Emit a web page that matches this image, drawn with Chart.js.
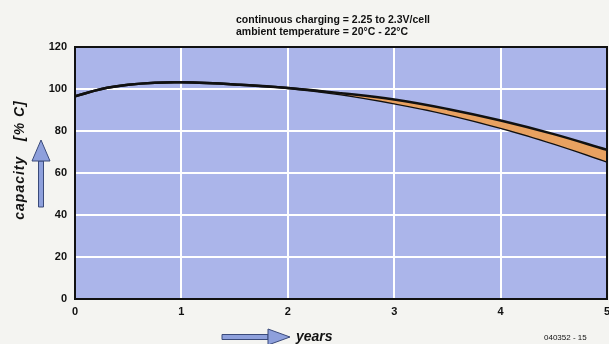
<!DOCTYPE html>
<html>
<head>
<meta charset="utf-8">
<script src="https://cdn.jsdelivr.net/npm/chart.js@4.4.1/dist/chart.umd.min.js"></script>
<style>
  html, body { margin: 0; padding: 0; background: #f4f4f1; }
  #wrap { width: 609px; height: 344px; position: relative; }
</style>
</head>
<body>
<div id="wrap"><canvas id="capacityChart" width="609" height="344"></canvas></div>
<script>
'use strict';

// Data
const years = [0, 0.25, 0.5, 0.75, 1, 1.5, 2, 2.5, 3, 3.5, 4, 4.5, 5];
const upperCapacity = [96.5, 100, 102, 103, 103.2, 102.2, 100.5, 98, 95, 90.5, 85, 78.5, 71];
const lowerCapacity = [96.5, 100, 102, 103, 103.2, 102.2, 100.5, 97.5, 93.2, 88, 81.5, 74, 65.5];
const yTicks = [0, 20, 40, 60, 80, 100, 120];
const xTicks = [0, 1, 2, 3, 4, 5];
const noteLines = ['continuous charging = 2.25 to 2.3V/cell', 'ambient temperature = 20\u00B0C - 22\u00B0C'];

const PLOT_BG = '#abb5ea';
const BAND = '#e8a160';

function toPoints(xs, ys) {
    return xs.map((x, i) => ({ x: x, y: ys[i] }));
}

// Draws plot background, frame, arrows and texts
const decorPlugin = {
    id: 'decor',
    beforeDraw(chart) {
        const { ctx, chartArea: a } = chart;
        ctx.save();
        ctx.fillStyle = PLOT_BG;
        ctx.fillRect(a.left, a.top, a.right - a.left, a.bottom - a.top);
        ctx.restore();
    },
    afterDraw(chart) {
        const { ctx, chartArea: a } = chart;
        ctx.save();
        // frame
        ctx.strokeStyle = '#111';
        ctx.lineWidth = 2;
        ctx.strokeRect(a.left, a.top, a.right - a.left, a.bottom - a.top);

        // note text
        ctx.fillStyle = '#111';
        ctx.font = 'bold 10.5px "Liberation Sans Narrow", "Liberation Sans", Arial, sans-serif';
        ctx.textAlign = 'left';
        ctx.textBaseline = 'middle';
        ctx.fillText(noteLines[0], 236, 20);
        ctx.fillText(noteLines[1], 236, 32);

        // y title
        ctx.save();
        ctx.translate(20, 160);
        ctx.rotate(-Math.PI / 2);
        ctx.font = 'italic bold 14px "Liberation Sans", Arial, sans-serif';
        ctx.letterSpacing = '1px';
        ctx.textAlign = 'center';
        ctx.fillText('capacity   [% C]', 0, 0);
        ctx.restore();

        // up arrow
        drawArrow(ctx, 41, 207, 41, 140, 'up');
        // right arrow
        drawArrow(ctx, 222, 337, 290, 337, 'right');

        // x title
        ctx.font = 'italic bold 14px "Liberation Sans", Arial, sans-serif';
        ctx.textAlign = 'left';
        ctx.fillText('years', 296, 337);

        // figure code
        ctx.font = '8px "Liberation Sans", Arial, sans-serif';
        ctx.fillText('040352 - 15', 544, 338);
        ctx.restore();
    }
};

function drawArrow(ctx, x1, y1, x2, y2, dir) {
    ctx.save();
    ctx.fillStyle = '#8ea0dc';
    ctx.strokeStyle = '#3a4a7a';
    ctx.lineWidth = 1;
    if (dir === 'up') {
        const head = 21;
        ctx.beginPath();
        ctx.rect(x1 - 2.5, y2 + head, 5, y1 - y2 - head);
        ctx.fill();
        ctx.stroke();
        ctx.beginPath();
        ctx.moveTo(x2, y2);
        ctx.lineTo(x2 + 9, y2 + head);
        ctx.lineTo(x2 - 9, y2 + head);
        ctx.closePath();
        ctx.fill();
        ctx.stroke();
    } else {
        const head = 22;
        ctx.beginPath();
        ctx.rect(x1, y1 - 2.5, x2 - x1 - head, 5);
        ctx.fill();
        ctx.stroke();
        ctx.beginPath();
        ctx.moveTo(x2, y2);
        ctx.lineTo(x2 - head, y2 - 8);
        ctx.lineTo(x2 - head, y2 + 8);
        ctx.closePath();
        ctx.fill();
        ctx.stroke();
    }
    ctx.restore();
}

const tickFont = { family: '"Liberation Sans", Arial, sans-serif', size: 11, weight: 'bold' };

new Chart(document.getElementById('capacityChart'), {
    type: 'line',
    data: {
        datasets: [{
            data: toPoints(years, upperCapacity),
            borderColor: '#111',
            borderWidth: 2.5,
            backgroundColor: BAND,
            fill: '+1',
            tension: 0.4,
            pointRadius: 0
        }, {
            data: toPoints(years, lowerCapacity),
            borderColor: '#111',
            borderWidth: 2.5,
            fill: false,
            tension: 0.4,
            pointRadius: 0
        }]
    },
    options: {
        responsive: false,
        animation: false,
        layout: { padding: { left: 0, top: 47, right: 2, bottom: 0 } },
        plugins: {
            legend: { display: false },
            tooltip: { enabled: false }
        },
        scales: {
            x: {
                type: 'linear',
                min: 0,
                max: 5,
                afterBuildTicks(axis) { axis.ticks = xTicks.map(v => ({ value: v })); },
                afterFit(axis) {
                    axis.height = 45;
                    axis.paddingRight = 0;
                    axis.paddingLeft = 0;
                },
                grid: { color: '#ffffff', lineWidth: 2, drawTicks: false },
                border: { display: false },
                ticks: { color: '#111', font: tickFont, padding: 6, maxRotation: 0 }
            },
            y: {
                min: 0,
                max: 120,
                afterBuildTicks(axis) { axis.ticks = yTicks.map(v => ({ value: v })); },
                afterFit(axis) { axis.width = 75; },
                grid: { color: '#ffffff', lineWidth: 2, drawTicks: false },
                border: { display: false },
                ticks: { color: '#111', font: tickFont, padding: 8 }
            }
        }
    },
    plugins: [decorPlugin]
});
</script>
</body>
</html>
